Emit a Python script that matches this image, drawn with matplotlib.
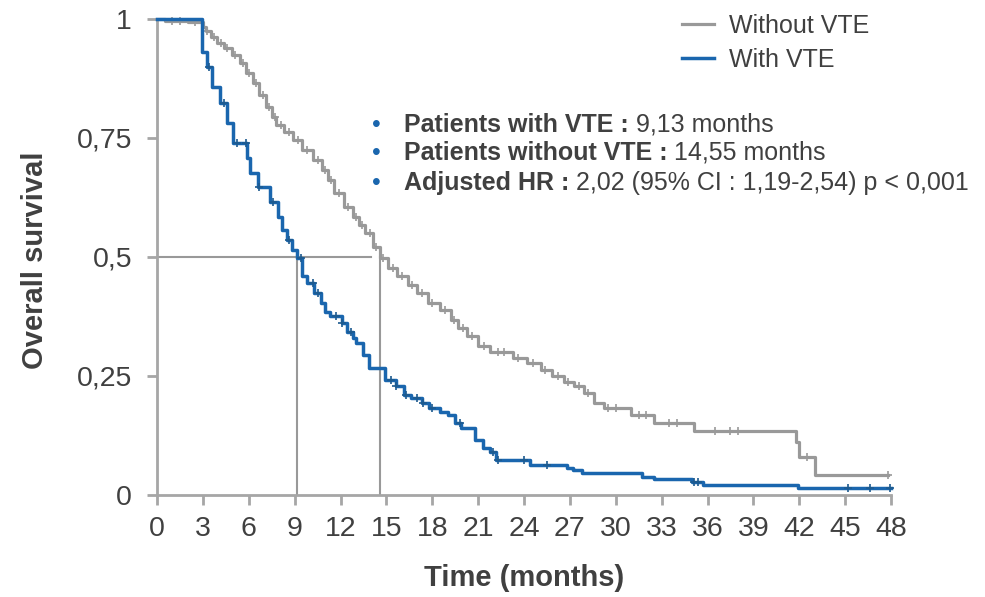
import numpy as np
import matplotlib.pyplot as plt

plt.rcParams['font.family'] = ['Liberation Sans', 'DejaVu Sans']

# Kaplan-Meier steps (time in months, survival after the step)
vte_t = [0, 2.93, 3.3, 3.6, 4.1, 4.6, 5.0, 5.9, 6.1, 6.6, 7.4, 7.9, 8.2, 8.5, 8.8,
         9.13, 9.5, 9.8, 10.25, 10.7, 11.0, 11.3, 12.1, 12.4, 12.8, 13.0, 13.5,
         13.86, 14.9, 15.6, 16.15, 16.6, 17.3, 17.8, 18.5, 19.0, 19.5, 19.9, 20.8,
         21.3, 21.8, 22.2, 24.4, 26.8, 27.2, 27.8, 31.7, 32.5, 35.0, 35.7, 41.9, 48.0]
vte_s = [1.0, 0.931, 0.90, 0.858, 0.823, 0.781, 0.739, 0.707, 0.676, 0.648, 0.616,
         0.585, 0.557, 0.536, 0.515, 0.497, 0.459, 0.445, 0.424, 0.403, 0.385, 0.375,
         0.361, 0.343, 0.33, 0.319, 0.294, 0.266, 0.242, 0.228, 0.21, 0.203, 0.193,
         0.182, 0.175, 0.168, 0.151, 0.141, 0.116, 0.098, 0.091, 0.074, 0.063, 0.057,
         0.053, 0.046, 0.038, 0.034, 0.028, 0.020, 0.014, 0.014]
vte_cens = [3.4, 4.4, 5.2, 5.8, 6.7, 7.6, 8.6, 9.4, 10.2, 10.5, 11.7, 12.1, 12.7,
            15.3, 15.6, 16.3, 17.0, 17.4, 18.0, 19.8, 22.0, 22.3, 24.0, 25.5,
            35.1, 35.4, 45.2, 46.6, 47.9]

novte_t = [0, 0.5, 2.0, 3.0, 3.2, 3.5, 3.9, 4.4, 4.9, 5.4, 5.8, 6.3, 6.7, 7.1, 7.5,
           7.8, 8.3, 8.9, 9.5, 10.2, 10.8, 11.2, 11.6, 12.2, 12.8, 13.2, 13.6, 14.1,
           14.55, 15.1, 15.7, 16.4, 17.0, 17.7, 18.5, 19.2, 19.7, 20.3, 21.0, 21.8,
           23.3, 24.2, 25.1, 25.8, 26.6, 27.3, 27.9, 28.6, 29.2, 31.0, 32.5, 35.1,
           41.8, 42.0, 43.0, 47.8]
novte_s = [1.0, 0.996, 0.993, 0.984, 0.975, 0.963, 0.949, 0.938, 0.924, 0.907, 0.886,
           0.865, 0.84, 0.816, 0.795, 0.777, 0.763, 0.746, 0.725, 0.704, 0.683, 0.662,
           0.634, 0.606, 0.585, 0.567, 0.55, 0.522, 0.497, 0.476, 0.459, 0.441, 0.424,
           0.403, 0.389, 0.368, 0.35, 0.333, 0.312, 0.301, 0.287, 0.277, 0.263, 0.249,
           0.238, 0.228, 0.214, 0.193, 0.182, 0.168, 0.151, 0.134, 0.112, 0.080,
           0.042, 0.042]
novte_cens = [1.0, 1.5, 2.5, 3.3, 3.7, 4.2, 4.6, 5.1, 5.6, 6.0, 6.5, 6.9, 7.3, 7.7,
              8.1, 8.6, 9.2, 9.8, 10.5, 11.0, 11.4, 11.9, 12.5, 13.0, 13.4, 13.9,
              14.3, 14.8, 15.4, 16.0, 16.7, 17.3, 18.0, 18.8, 19.4, 20.0, 20.6, 21.4,
              22.3, 22.7, 23.6, 24.6, 25.4, 26.2, 26.9, 27.6, 28.2, 29.5, 30.0,
              31.5, 32.0, 33.5, 34.0, 36.5, 37.5, 38.0, 42.5, 47.8]

median_vte = 9.13
median_novte = 14.55

yticks = [0, 0.25, 0.5, 0.75, 1]
ytick_labels = ['0', '0,25', '0,5', '0,75', '1']
xticks = list(range(0, 49, 3))

gray = '#999999'
blue = '#1a66ae'
axis_gray = '#a6a6a6'
text_col = '#404040'


def step_value(times, surv, t):
    i = np.searchsorted(times, t, side='right') - 1
    return surv[i]


fig = plt.figure(figsize=(9.85, 5.97), dpi=100)
ax = fig.add_axes([0.1594, 0.1709, 0.7452, 0.7973])

# median reference lines
ax.plot([0, 14.0], [0.5, 0.5], color=gray, lw=1.5, zorder=1)
ax.plot([median_vte, median_vte], [0, 0.5], color=gray, lw=1.5, zorder=1)
ax.plot([median_novte, median_novte], [0, 0.5], color=gray, lw=1.5, zorder=1)

ax.plot(novte_t, novte_s, drawstyle='steps-post', color=gray, lw=2.3,
        clip_on=False, zorder=3, label='Without VTE')
ax.plot(vte_t, vte_s, drawstyle='steps-post', color=blue, lw=2.5,
        clip_on=False, zorder=4, label='With VTE')

ax.plot(novte_cens, [step_value(novte_t, novte_s, t) for t in novte_cens], '+',
        color=gray, ms=6, mew=1.2, zorder=3, clip_on=False)
ax.plot(vte_cens, [step_value(vte_t, vte_s, t) for t in vte_cens], '+',
        color='#1d5a8f', ms=6, mew=1.2, zorder=4, clip_on=False)

ax.set_xlim(0, 48)
ax.set_ylim(0, 1)
ax.set_xticks(xticks)
ax.set_yticks(yticks)
ax.set_yticklabels(ytick_labels)
for side in ['top', 'right']:
    ax.spines[side].set_visible(False)
for side in ['left', 'bottom']:
    ax.spines[side].set_color(axis_gray)
    ax.spines[side].set_linewidth(2)
ax.tick_params(axis='both', colors=axis_gray, width=2, length=7,
               labelcolor=text_col, labelsize=20.5)
ax.tick_params(axis='x', pad=8)
ax.tick_params(axis='y', pad=11)

fig.text(0.532, 0.032, 'Time (months)', fontsize=21, fontweight='bold',
         color=text_col, ha='center', va='center')
fig.text(0.0355, 0.5645, 'Overall survival', fontsize=21, fontweight='bold',
         color=text_col, ha='center', va='center', rotation=90)

ax.legend(loc='upper left', bbox_to_anchor=(0.692, 0.977),
          bbox_transform=fig.transFigure, frameon=False, fontsize=18,
          borderpad=0, borderaxespad=0, handlelength=1.3, handletextpad=0.6,
          labelspacing=0.4, labelcolor=text_col)

# summary block
notes = [('Patients with VTE :', ' 9,13 months'),
         ('Patients without VTE :', ' 14,55 months'),
         ('Adjusted HR :', ' 2,02 (95% CI : 1,19-2,54) p < 0,001')]
note_y = [0.791, 0.744, 0.693]
for (bold, rest), y in zip(notes, note_y):
    fig.text(0.3777, y, '\u2022', color=blue, fontsize=18, va='center')
    b = fig.text(0.410, y, bold, fontsize=18, fontweight='bold', color=text_col,
                 va='center')
    ax.annotate(rest, xy=(1, 0), xycoords=b, va='bottom', ha='left',
                fontsize=18, color=text_col, annotation_clip=False)

fig.savefig('out.png', dpi=100)
